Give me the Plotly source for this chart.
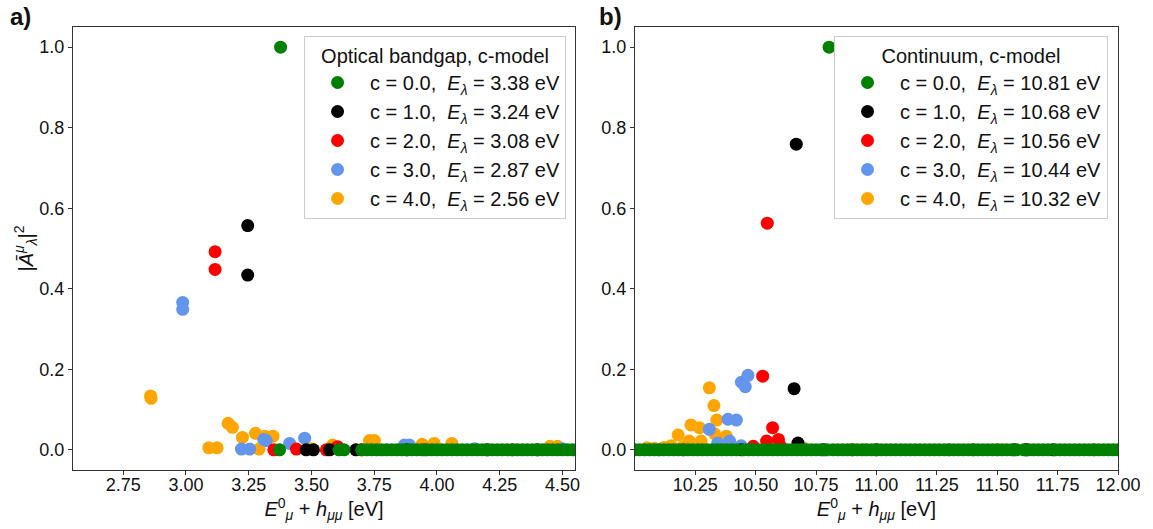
import plotly.graph_objects as go
from plotly.subplots import make_subplots

# ---------------- labels ----------------
labels_c = ["c = 0.0", "c = 1.0", "c = 2.0", "c = 3.0", "c = 4.0"]
energies_a = ["3.38", "3.24", "3.08", "2.87", "2.56"]
energies_b = ["10.81", "10.68", "10.56", "10.44", "10.32"]
colors = ["green", "black", "red", "cornflowerblue", "orange"]

# ---------------- data: panel a) optical bandgap ----------------
green_a_x = [3.377, 3.373, 3.61, 3.63, 3.70, 3.72, 3.74, 3.76, 3.78, 3.80, 3.82, 3.84,
             3.86, 3.88, 3.90, 3.92, 3.94, 3.96, 3.98, 4.00, 4.02, 4.04, 4.06, 4.08,
             4.10, 4.12, 4.14, 4.16, 4.18, 4.20, 4.22, 4.24, 4.26, 4.28, 4.30, 4.32,
             4.34, 4.36, 4.38, 4.40, 4.42, 4.44, 4.46, 4.48, 4.50, 4.52, 4.54, 4.56, 4.58]
green_a_y = [1.0] + [0.0] * 48

black_a_x = [3.246, 3.246, 3.479, 3.508, 3.572, 3.677, 3.88, 4.20, 4.40]
black_a_y = [0.557, 0.434, 0.0, 0.0, 0.0, 0.0, 0.0, 0.0, 0.0]

red_a_x = [3.116, 3.116, 3.35, 3.44, 3.559, 3.604, 3.70, 3.95, 4.30]
red_a_y = [0.492, 0.448, 0.0, 0.002, 0.0, 0.008, 0.0, 0.0, 0.0]

blue_a_x = [2.987, 2.987, 3.221, 3.254, 3.31, 3.32, 3.413, 3.473, 3.87, 3.89, 4.15, 4.50]
blue_a_y = [0.366, 0.349, 0.002, 0.002, 0.026, 0.023, 0.016, 0.029, 0.012, 0.012, 0.003, 0.003]

orange_a_x = [2.859, 2.861, 3.091, 3.124, 3.168, 3.185, 3.225, 3.277, 3.314, 3.347,
              3.291, 3.50, 3.584, 3.731, 3.751, 3.941, 3.989, 4.059, 4.45, 4.48]
orange_a_y = [0.134, 0.128, 0.005, 0.005, 0.066, 0.056, 0.031, 0.041, 0.034, 0.034,
              0.002, 0.003, 0.012, 0.023, 0.023, 0.014, 0.016, 0.016, 0.009, 0.009]

# ---------------- data: panel b) continuum ----------------
green_b_x = [10.804, 9.98, 10.00, 10.02, 10.04, 10.06, 10.08, 10.10, 10.12, 10.14, 10.16,
             10.18, 10.20, 10.22, 10.24, 10.26, 10.28, 10.30, 10.32, 10.34, 10.36,
             10.38, 10.40, 10.42, 10.45, 10.47, 10.49, 10.51, 10.53, 10.55, 10.57,
             10.59, 10.61, 10.63, 10.65, 10.67, 10.69, 10.71, 10.73, 10.75, 10.77,
             10.79, 10.82, 10.84, 10.86, 10.88, 10.90, 10.92, 10.94, 10.96, 10.98,
             11.00, 11.02, 11.04, 11.06, 11.08, 11.10, 11.12, 11.14, 11.16, 11.18,
             11.20, 11.22, 11.24, 11.26, 11.28, 11.30, 11.32, 11.34, 11.36, 11.38,
             11.40, 11.42, 11.44, 11.46, 11.48, 11.50, 11.52, 11.54, 11.56, 11.58,
             11.61, 11.63, 11.65, 11.67, 11.69, 11.71, 11.74, 11.76, 11.78, 11.80,
             11.82, 11.84, 11.86, 11.88, 11.90, 11.92, 11.94, 11.96, 11.98, 12.00, 12.02]
green_b_y = [1.0] + [0.0] * (len(green_b_x) - 1)

black_b_x = [10.668, 10.659, 10.675, 10.44, 10.78, 11.00, 11.57, 11.62, 11.73]
black_b_y = [0.759, 0.152, 0.017, 0.0, 0.0, 0.0, 0.0, 0.0, 0.0]

red_b_x = [10.548, 10.529, 10.57, 10.594, 10.545, 10.49, 10.60, 10.20, 10.90, 11.40, 11.62]
red_b_y = [0.563, 0.183, 0.055, 0.026, 0.022, 0.009, 0.012, 0.0, 0.0, 0.0, 0.0]

blue_b_x = [10.441, 10.468, 10.457, 10.385, 10.42, 10.308, 10.343, 10.392, 10.44,
            10.10, 10.80, 11.30, 11.90]
blue_b_y = [0.168, 0.185, 0.157, 0.076, 0.074, 0.051, 0.017, 0.022, 0.01,
            0.0, 0.0, 0.0, 0.0]

orange_b_x = [10.308, 10.327, 10.339, 10.232, 10.267, 10.179, 10.225, 10.274, 10.33,
              10.378, 10.15, 10.05, 10.12, 10.08, 10.20, 10.70, 10.95, 11.50]
orange_b_y = [0.154, 0.110, 0.074, 0.062, 0.055, 0.037, 0.022, 0.022, 0.040,
              0.034, 0.010, 0.005, 0.006, 0.004, 0.008, 0.004, 0.0, 0.0]

series_a = [(green_a_x, green_a_y), (black_a_x, black_a_y), (red_a_x, red_a_y),
            (blue_a_x, blue_a_y), (orange_a_x, orange_a_y)]
series_b = [(green_b_x, green_b_y), (black_b_x, black_b_y), (red_b_x, red_b_y),
            (blue_b_x, blue_b_y), (orange_b_x, orange_b_y)]

FONT = "Liberation Sans, Arial, sans-serif"
TXT = "#111111"
W, H = 1153, 529
ML, MR, MT, MB = 73, 33, 27, 59
PW = W - ML - MR
PH = H - MT - MB

fig = make_subplots(rows=1, cols=2, horizontal_spacing=(636 - 576) / PW)
fig.update_xaxes(domain=[0, (576 - ML) / PW], row=1, col=1)
fig.update_xaxes(domain=[(636 - ML) / PW, 1], row=1, col=2)

MSIZE = 13
# draw orange first so green ends up on top; legend order is reversed
for i in reversed(range(5)):
    xa, ya = series_a[i]
    fig.add_trace(go.Scatter(
        x=xa, y=ya, mode="markers",
        marker=dict(color=colors[i], size=MSIZE, line=dict(width=0)),
        name=f"{labels_c[i]},  <i>E</i><sub><i>λ</i></sub> = {energies_a[i]} eV",
        legend="legend"), row=1, col=1)
for i in reversed(range(5)):
    xb, yb = series_b[i]
    fig.add_trace(go.Scatter(
        x=xb, y=yb, mode="markers",
        marker=dict(color=colors[i], size=MSIZE, line=dict(width=0)),
        name=f"{labels_c[i]},  <i>E</i><sub><i>λ</i></sub> = {energies_b[i]} eV",
        legend="legend2"), row=1, col=2)

axis_common = dict(showline=True, linecolor="#333333", linewidth=1.3, mirror=True,
                   ticks="outside", ticklen=4, tickcolor="#333333", showgrid=False,
                   zeroline=False, tickfont=dict(family=FONT, size=18, color=TXT))

xtitle = "<i>E</i><sup>0</sup><sub><i>μ</i></sub> + <i>h</i><sub><i>μμ</i></sub> [eV]"
fig.update_xaxes(**axis_common, row=1, col=1, range=[2.55, 4.55], ticklabelstandoff=-6,
                 tickvals=[2.75, 3.0, 3.25, 3.5, 3.75, 4.0, 4.25, 4.5], tickformat=".2f",
                 title=dict(text=xtitle, font=dict(family=FONT, size=20, color=TXT), standoff=0))
fig.update_xaxes(**axis_common, row=1, col=2, range=[10.0, 12.0], ticklabelstandoff=-6,
                 tickvals=[10.25, 10.5, 10.75, 11.0, 11.25, 11.5, 11.75, 12.0], tickformat=".2f",
                 title=dict(text=xtitle, font=dict(family=FONT, size=20, color=TXT), standoff=0))
for c in (1, 2):
    fig.update_yaxes(**axis_common, row=1, col=c, range=[-0.05, 1.05],
                     tickvals=[0, 0.2, 0.4, 0.6, 0.8, 1.0], tickformat=".1f")
fig.update_yaxes(row=1, col=1,
                 title=dict(text="|<i>Ā</i><sup><i>μ</i></sup><sub><i>λ</i></sub>|<sup>2</sup>",
                            font=dict(family=FONT, size=20, color=TXT), standoff=0))

legend_common = dict(bgcolor="rgba(255,255,255,0.8)", bordercolor="#cccccc", borderwidth=1,
                     font=dict(family=FONT, size=20, color=TXT), traceorder="reversed",
                     xref="paper", yref="paper", xanchor="right", yanchor="top",
                     itemwidth=55, tracegroupgap=0)
fig.update_layout(
    width=W, height=H,
    margin=dict(l=ML, r=MR, t=MT, b=MB),
    plot_bgcolor="white", paper_bgcolor="white",
    font=dict(family=FONT, color=TXT),
    legend=dict(**legend_common, x=(567 - ML) / PW, y=(H - MB - 36) / PH,
                title=dict(text="Optical bandgap, c-model", side="top center",
                           font=dict(family=FONT, size=20, color=TXT))),
    legend2=dict(**legend_common, x=(1110 - ML) / PW, y=(H - MB - 36) / PH,
                 title=dict(text="Continuum, c-model", side="top center",
                            font=dict(family=FONT, size=20, color=TXT))),
)
fig.add_annotation(text="<b>a)</b>", x=(8 - ML) / PW, y=(H - MB - 1) / PH,
                   xref="paper", yref="paper", xanchor="left", yanchor="top",
                   showarrow=False, font=dict(family=FONT, size=24, color=TXT))
fig.add_annotation(text="<b>b)</b>", x=(598 - ML) / PW, y=(H - MB - 1) / PH,
                   xref="paper", yref="paper", xanchor="left", yanchor="top",
                   showarrow=False, font=dict(family=FONT, size=24, color=TXT))

fig.write_html("out.html")
